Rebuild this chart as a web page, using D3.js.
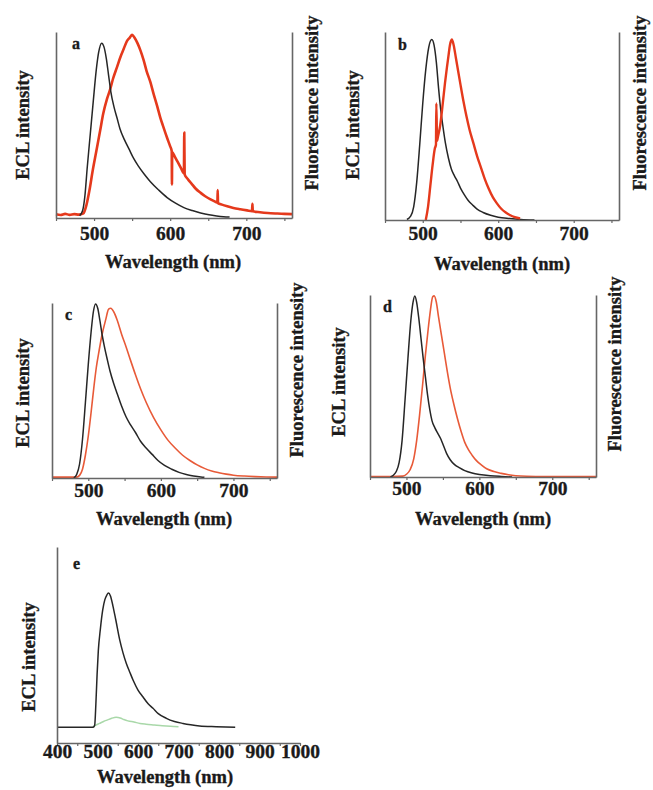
<!DOCTYPE html>
<html><head><meta charset="utf-8">
<script src="https://cdn.jsdelivr.net/npm/d3@7"></script>
<style>
html,body{margin:0;padding:0;background:#fff;}
svg{display:block;}
text{font-family:"Liberation Serif","Times New Roman",serif;font-weight:bold;fill:#1a1a1a;stroke:#1a1a1a;stroke-width:0.35px;}
</style></head>
<body><svg id="c" width="653" height="790"></svg>
<script>
// ---- data (wavelength nm, normalised intensity) ----
const panelLetters = ["a","b","c","d","e"];
const xTicksNarrow = [500,600,700];
const xTicksWide = [400,500,600,700,800,900,1000];

const aEcl = [[481,0.012],[485,0.04],[488,0.12],[491,0.27],[495,0.45],[499,0.63],[503,0.8],[506,0.89],[510,0.94],[513,0.92],[516,0.86],[519,0.77],[522,0.68],[526,0.6],[530,0.54],[534,0.48],[540,0.42],[546,0.37],[552,0.32],[558,0.28],[566,0.235],[574,0.195],[585,0.15],[596,0.11],[607,0.08],[618,0.056],[629,0.04],[640,0.027],[651,0.017],[661,0.011],[670,0.007],[678,0.005]];
const aFl = [[450,0.02],[456,0.016],[462,0.022],[468,0.017],[474,0.021],[480,0.018],[486,0.025],[490,0.07],[494,0.15],[498,0.25],[503,0.36],[508,0.47],[512,0.56],[517,0.64],[521,0.69],[525,0.75],[530,0.81],[535,0.87],[539,0.91],[543,0.95],[547,0.97],[550,0.985],[553,0.97],[557,0.94],[561,0.9],[565,0.85],[569,0.79],[574,0.73],[578,0.67],[583,0.6],[587,0.54],[591,0.49],[596,0.43],[600,0.385],[602,0.36],[602.3,0.18],[602.6,0.355],[606,0.33],[610,0.3],[614,0.27],[618,0.24],[618.5,0.46],[619,0.235],[623,0.21],[628,0.185],[633,0.16],[640,0.135],[646,0.117],[653,0.1],[660,0.086],[662,0.083],[662.4,0.15],[662.8,0.08],[668,0.072],[675,0.063],[683,0.054],[692,0.047],[701,0.041],[707.5,0.037],[708,0.077],[708.5,0.036],[718,0.031],[728,0.027],[740,0.024],[750,0.022],[760,0.021]];

const bEcl = [[479,0.003],[484,0.02],[488,0.07],[492,0.2],[496,0.4],[500,0.62],[504,0.8],[508,0.92],[512,0.96],[515,0.93],[518,0.84],[521,0.7],[524,0.58],[527,0.49],[530,0.41],[534,0.33],[538,0.27],[542,0.235],[546,0.205],[550,0.17],[555,0.135],[560,0.105],[566,0.08],[572,0.058],[580,0.04],[590,0.025],[600,0.015],[615,0.008],[630,0.003],[648,0]];
const bFl = [[504,0.0],[507,0.07],[510,0.18],[513,0.29],[516,0.38],[517.5,0.4],[518,0.62],[519,0.42],[520,0.44],[523,0.5],[526,0.6],[529.5,0.73],[532,0.81],[534,0.87],[536,0.93],[538.5,0.96],[541,0.93],[544,0.86],[547,0.79],[550,0.72],[554,0.63],[558,0.55],[562,0.48],[567,0.41],[572,0.34],[577,0.28],[582,0.22],[587,0.17],[593,0.12],[598,0.09],[604,0.06],[610,0.04],[616,0.025],[622,0.015],[629,0.008]];

const cEcl = [[480,0],[484,0.02],[488,0.08],[492,0.22],[496,0.43],[500,0.65],[504,0.84],[507,0.95],[510,0.995],[513,0.97],[516,0.9],[519,0.82],[522,0.755],[526,0.68],[530,0.61],[535,0.54],[540,0.48],[546,0.41],[552,0.35],[558,0.305],[565,0.26],[572,0.21],[580,0.17],[588,0.135],[596,0.1],[605,0.072],[615,0.05],[625,0.032],[635,0.02],[645,0.012],[655,0.006],[660,0.004]];
const cFl = [[450,0.005],[470,0.005],[484,0.005],[488,0.015],[492,0.05],[496,0.13],[500,0.24],[504,0.38],[508,0.53],[511,0.63],[515,0.73],[519,0.82],[524,0.905],[528,0.965],[531,0.97],[535,0.95],[540,0.9],[546,0.82],[552,0.75],[558,0.675],[565,0.59],[572,0.51],[580,0.43],[590,0.345],[600,0.275],[610,0.215],[620,0.17],[630,0.13],[640,0.1],[650,0.075],[660,0.055],[670,0.04],[680,0.03],[690,0.022],[700,0.016],[715,0.011],[730,0.008],[745,0.006],[760,0.005]];

const dEcl = [[478,0],[482,0.01],[486,0.03],[490,0.08],[494,0.2],[498,0.42],[502,0.65],[506,0.86],[509,0.96],[511.5,0.995],[514,0.96],[517,0.87],[520,0.76],[523,0.65],[526,0.55],[529,0.45],[532,0.37],[535,0.31],[539,0.27],[543,0.24],[547,0.21],[551,0.17],[555,0.13],[560,0.095],[566,0.068],[573,0.05],[580,0.035],[590,0.022],[600,0.014],[615,0.007],[630,0.003],[645,0]];
const dFl = [[450,0.003],[480,0.003],[495,0.005],[500,0.015],[505,0.04],[510,0.1],[514,0.2],[518,0.34],[522,0.5],[526,0.67],[530,0.82],[533,0.92],[536,0.99],[538,0.995],[541,0.96],[544,0.88],[548,0.78],[552,0.68],[556,0.58],[560,0.49],[565,0.4],[570,0.32],[575,0.25],[580,0.19],[585,0.15],[590,0.12],[596,0.09],[603,0.065],[610,0.045],[620,0.03],[630,0.02],[640,0.012],[650,0.007],[665,0.004],[690,0.003],[760,0.003]];

const eEcl = [[400,0.08],[450,0.08],[489,0.08],[493,0.09],[496,0.2],[499,0.35],[502,0.47],[507,0.58],[513,0.68],[518,0.73],[523,0.755],[527,0.765],[532,0.75],[538,0.7],[545,0.63],[555,0.525],[563,0.46],[571,0.407],[580,0.36],[588,0.32],[600,0.27],[612,0.236],[625,0.2],[637,0.177],[650,0.15],[670,0.126],[690,0.11],[711,0.1],[730,0.093],[752,0.087],[793,0.083],[840,0.08]];
const eBlank = [[488,0.08],[495,0.09],[505,0.1],[515,0.11],[525,0.118],[535,0.126],[546,0.131],[556,0.128],[565,0.12],[575,0.113],[590,0.107],[605,0.1],[620,0.096],[640,0.092],[660,0.088],[680,0.085],[700,0.083]];

// ---- layout ----
const panels = [
 {id:"a", x0:56, x1:292, yT:32, yB:218, dom:[450,760], ticks:xTicksNarrow, minor:[450,550,650,750], right:true,
  series:[{d:aFl,c:"#e5391c",w:2.6},{d:aEcl,c:"#262626",w:1.5}],
  ecl:{x:29,y:125}, flu:{x:318,y:103}, tickBase:240, title:{x:173,y:268}, letter:{x:72,y:49}},
 {id:"b", x0:385, x1:619, yT:32, yB:220, dom:[450,760], ticks:xTicksNarrow, minor:[450,550,650,750], right:true,
  series:[{d:bEcl,c:"#262626",w:1.5},{d:bFl,c:"#e5391c",w:2.4}],
  ecl:{x:359,y:125}, flu:{x:646,y:103}, tickBase:240, title:{x:502,y:270}, letter:{x:398,y:50}},
 {id:"c", x0:52, x1:277, yT:303, yB:478, dom:[450,760], ticks:xTicksNarrow, minor:[450,550,650,750], right:true,
  series:[{d:cFl,c:"#e85a38",w:1.6},{d:cEcl,c:"#262626",w:1.5}],
  ecl:{x:29,y:393}, flu:{x:303,y:370}, tickBase:497, title:{x:164,y:525}, letter:{x:65,y:320}},
 {id:"d", x0:370, x1:596, yT:295, yB:477, dom:[450,760], ticks:xTicksNarrow, minor:[450,550,650,750], right:true,
  series:[{d:dFl,c:"#e85a38",w:1.6},{d:dEcl,c:"#262626",w:1.5}],
  ecl:{x:345,y:382}, flu:{x:621,y:364}, tickBase:495, title:{x:483,y:525}, letter:{x:383,y:312}},
 {id:"e", x0:57, x1:300, yT:547, yB:743, dom:[400,1000], ticks:xTicksWide, minor:[450,550,650,750,850,950], right:false,
  series:[{d:eBlank,c:"#a9d8a9",w:1.5},{d:eEcl,c:"#262626",w:1.5}],
  ecl:{x:35,y:657}, flu:null, tickBase:758, title:{x:165,y:783}, letter:{x:73,y:569}}
];

const svg = d3.select("#c");
svg.append("rect").attr("width",653).attr("height",790).attr("fill","#fff");
const axisColor = "#666";
const fs = 18.5;
const tfs = 19.5;

panels.forEach(p => {
  const x = d3.scaleLinear().domain(p.dom).range([p.x0, p.x1]);
  const y = d3.scaleLinear().domain([0,1]).range([p.yB, p.yT]);
  const g = svg.append("g");

  const line = d3.line().x(d=>x(d[0])).y(d=>y(d[1])).curve(d3.curveMonotoneX);
  p.series.forEach(s => {
    g.append("path").datum(s.d).attr("d", line)
      .attr("fill","none").attr("stroke", s.c).attr("stroke-width", s.w)
      .attr("stroke-linejoin","round");
  });

  const la = g.append("g").attr("transform",`translate(${p.x0},0)`)
    .call(d3.axisLeft(y).tickValues([]).tickSizeOuter(0));
  la.select(".domain").attr("stroke",axisColor).attr("stroke-width",1.6);
  if (p.right) {
    const ra = g.append("g").attr("transform",`translate(${p.x1},0)`)
      .call(d3.axisRight(y).tickValues([]).tickSizeOuter(0));
    ra.select(".domain").attr("stroke",axisColor).attr("stroke-width",1.6);
  }
  const tickLen = 3;
  const pad = p.tickBase - p.yB - tickLen - 0.71*tfs;
  const ba = g.append("g").attr("transform",`translate(0,${p.yB})`)
    .call(d3.axisBottom(x).tickValues(p.ticks).tickSize(tickLen).tickSizeOuter(0).tickPadding(pad).tickFormat(d3.format("d")));
  ba.select(".domain").attr("stroke",axisColor).attr("stroke-width",1.6);
  ba.selectAll(".tick line").attr("stroke",axisColor).attr("stroke-width",1.2);
  ba.selectAll(".tick text").attr("font-size",tfs).attr("font-family","Liberation Serif").attr("font-weight","bold").attr("fill","#1a1a1a");
  const mi = g.append("g").attr("transform",`translate(0,${p.yB})`)
    .call(d3.axisBottom(x).tickValues(p.minor).tickSize(tickLen).tickFormat(""));
  mi.select(".domain").remove();
  mi.selectAll(".tick line").attr("stroke",axisColor).attr("stroke-width",1.2);

  g.append("text").attr("x",p.title.x).attr("y",p.title.y).attr("text-anchor","middle")
    .attr("font-size",fs).text("Wavelength (nm)");
  g.append("text").attr("transform",`translate(${p.ecl.x},${p.ecl.y}) rotate(-90)`)
    .attr("text-anchor","middle").attr("font-size",fs).text("ECL intensity");
  if (p.flu) {
    g.append("text").attr("transform",`translate(${p.flu.x},${p.flu.y}) rotate(-90)`)
      .attr("text-anchor","middle").attr("font-size",fs).text("Fluorescence intensity");
  }
  g.append("text").attr("x",p.letter.x).attr("y",p.letter.y).attr("font-size",16).text(p.id);
});
</script></body></html>
